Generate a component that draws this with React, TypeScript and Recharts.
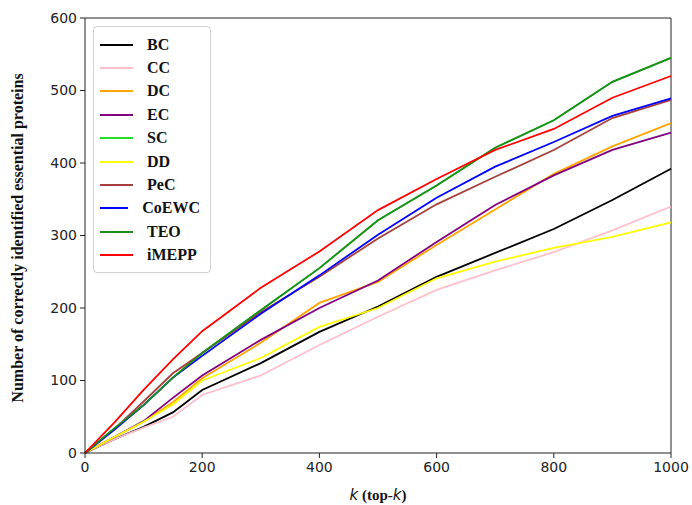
import { LineChart, Line, XAxis, YAxis, ReferenceLine } from "recharts";

// top-k cut-offs and the number of essential proteins found by each method
const topK = [0, 50, 100, 150, 200, 300, 400, 500, 600, 700, 800, 900, 1000];
const bc = [0, 19, 36, 56, 87, 124, 167, 202, 243, 276, 309, 349, 392];
const cc = [0, 19, 35, 50, 80, 107, 149, 188, 225, 252, 277, 307, 340];
const dc = [0, 22, 43, 70, 103, 152, 207, 236, 287, 336, 385, 423, 455];
const ec = [0, 22, 44, 76, 107, 156, 200, 238, 291, 342, 383, 418, 442];
const sc = [0, 34, 66, 104, 138, 197, 255, 321, 369, 421, 459, 512, 545];
const dd = [0, 22, 43, 67, 100, 131, 174, 200, 241, 264, 283, 298, 318];
const pec = [0, 33, 71, 110, 138, 194, 243, 296, 343, 381, 418, 462, 487];
const coewc = [0, 32, 66, 104, 134, 192, 245, 301, 352, 395, 429, 465, 489];
const teo = [0, 34, 66, 104, 138, 197, 255, 321, 369, 421, 459, 512, 545];
const imepp = [0, 42, 87, 129, 168, 228, 278, 335, 378, 418, 447, 490, 520];

const xTicks = [0, 200, 400, 600, 800, 1000];
const yTicks = [0, 100, 200, 300, 400, 500, 600];

const series = [
  { name: "BC", values: bc, color: "#000000" },
  { name: "CC", values: cc, color: "#ffc0cb" },
  { name: "DC", values: dc, color: "#ffa500" },
  { name: "EC", values: ec, color: "#800080" },
  { name: "SC", values: sc, color: "#22e022" },
  { name: "DD", values: dd, color: "#ffff00" },
  { name: "PeC", values: pec, color: "#a5403c" },
  { name: "CoEWC", values: coewc, color: "#0000ff" },
  { name: "TEO", values: teo, color: "#1e8c1e" },
  { name: "iMEPP", values: imepp, color: "#ff0000" },
];

const data = topK.map((k, i) => {
  const row: Record<string, number> = { k };
  series.forEach((s) => (row[s.name] = s.values[i]));
  return row;
});

const serif = "'Liberation Serif', 'Times New Roman', serif";
const sans = "'DejaVu Sans', sans-serif";

const LegendBox = () => (
  <div
    style={{
      position: "absolute",
      left: 93,
      top: 26,
      border: "1px solid #d0d0d0",
      borderRadius: 4,
      background: "#fff",
      padding: "6px 10px 5px 6px",
      width: 100,
    }}
  >
    {series.map((s) => (
      <div key={s.name} style={{ display: "flex", alignItems: "center", height: 23.4 }}>
        <div style={{ width: 33, height: 2, background: s.color, marginRight: 14 }} />
        <span style={{ fontFamily: serif, fontWeight: "bold", fontSize: 16, color: "#111" }}>{s.name}</span>
      </div>
    ))}
  </div>
);

export default function App() {
  return (
    <div style={{ position: "absolute", left: 0, top: 0, width: 692, height: 505, background: "#fff" }}>
      <LineChart width={692} height={505} data={data} margin={{ top: 18, right: 21, bottom: 22, left: 0 }}>
        <XAxis
          dataKey="k"
          type="number"
          domain={[0, 1000]}
          ticks={xTicks}
          tickSize={5}
          tickMargin={4}
          height={30}
          stroke="#222"
          tick={{ fontFamily: sans, fontSize: 14, fill: "#222" }}
        />
        <YAxis
          type="number"
          domain={[0, 600]}
          ticks={yTicks}
          width={85}
          tickSize={5}
          tickMargin={3}
          stroke="#222"
          tick={{ fontFamily: sans, fontSize: 14, fill: "#222" }}
        />
        <ReferenceLine y={600} stroke="#222" />
        <ReferenceLine x={1000} stroke="#222" />
        {series.map((s) => (
          <Line
            key={s.name}
            dataKey={s.name}
            type="linear"
            stroke={s.color}
            strokeWidth={1.8}
            dot={false}
            isAnimationActive={false}
          />
        ))}
      </LineChart>
      <LegendBox />
      <svg width={692} height={505} style={{ position: "absolute", left: 0, top: 0, pointerEvents: "none" }}>
        <text
          x={0}
          y={0}
          transform="translate(23,238) rotate(-90)"
          textAnchor="middle"
          fontFamily={serif}
          fontWeight="bold"
          fontSize={16}
          fill="#111"
        >
          Number of correctly identified essential proteins
        </text>
        <text x={378} y={500} textAnchor="middle" fontSize={15} fill="#111">
          <tspan fontFamily={sans} fontStyle="italic">k</tspan>
          <tspan fontFamily={serif} fontWeight="bold"> (top-</tspan>
          <tspan fontFamily={sans} fontStyle="italic">k</tspan>
          <tspan fontFamily={serif} fontWeight="bold">)</tspan>
        </text>
      </svg>
    </div>
  );
}
